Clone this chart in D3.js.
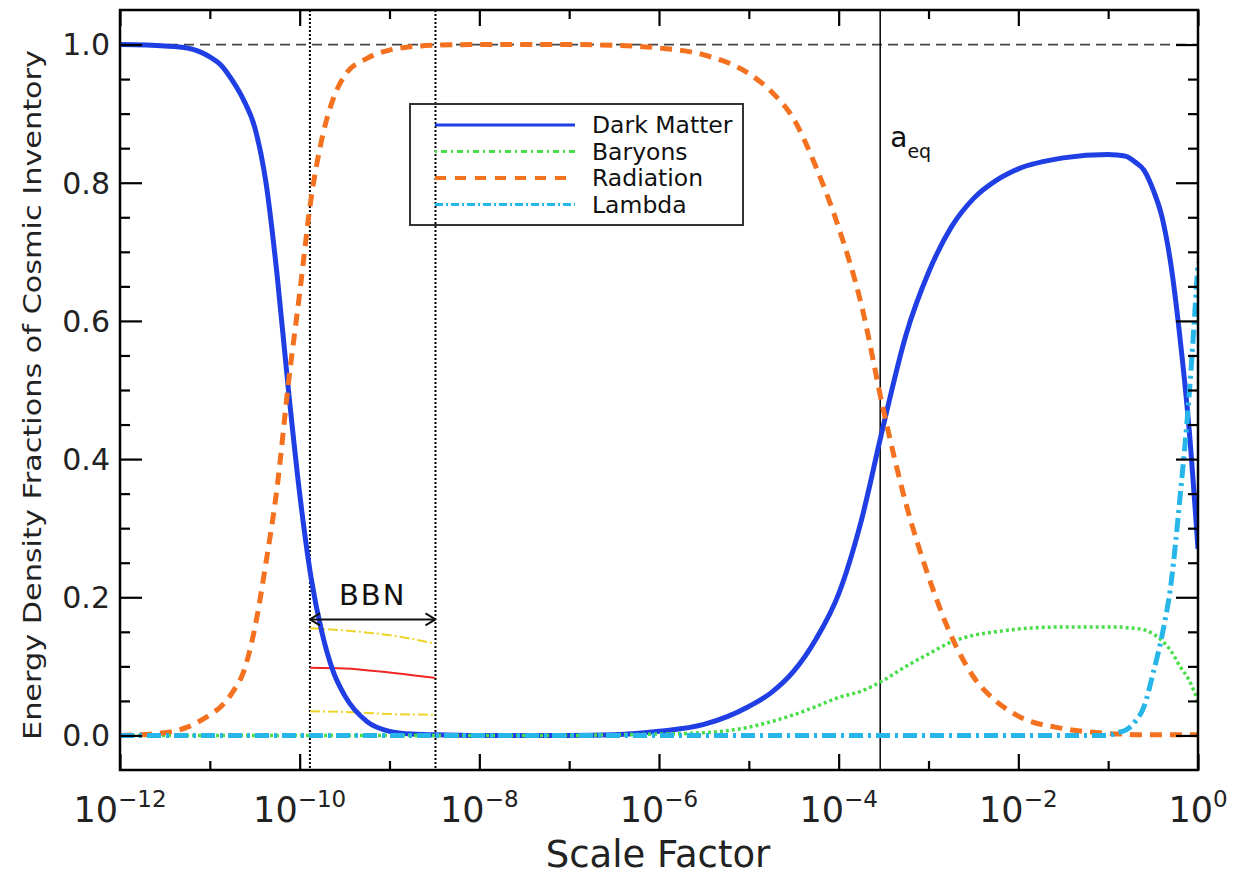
<!DOCTYPE html>
<html>
<head>
<meta charset="utf-8">
<script src="https://cdn.jsdelivr.net/npm/d3@7"></script>
<style>
  body { margin: 0; background: #fff; }
  text { font-family: "DejaVu Sans", sans-serif; fill: #111; }
</style>
</head>
<body>
<div id="chart"></div>
<script>
// log10 of the scale factor, shared by the four species
var logA = [-12, -11.5, -11.25, -11, -10.875, -10.75, -10.625, -10.5, -10.375, -10.25,
            -10.125, -10, -9.875, -9.75, -9.625, -9.5, -9.25, -9, -8.75, -8.5,
            -8, -7, -6.5, -6, -5.5, -5, -4.75, -4.5, -4.25, -4,
            -3.75, -3.5, -3.25, -3, -2.75, -2.5, -2.25, -2, -1.5, -1,
            -0.9, -0.8, -0.7, -0.6, -0.5, -0.4, -0.3, -0.2, -0.1, 0];

var darkMatter = [1.0, 0.998, 0.995, 0.982, 0.97, 0.948, 0.92, 0.88, 0.80, 0.665,
                  0.50, 0.35, 0.23, 0.148, 0.092, 0.058, 0.02, 0.006, 0.002, 0.001,
                  0, 0, 0.001, 0.006, 0.016, 0.042, 0.062, 0.093, 0.14, 0.205,
                  0.31, 0.45, 0.58, 0.67, 0.735, 0.777, 0.803, 0.82, 0.836, 0.841,
                  0.84, 0.838, 0.83, 0.818, 0.79, 0.75, 0.68, 0.575, 0.445, 0.27];

var baryons = [0, 0, 0, 0, 0, 0, 0, 0, 0, 0,
               0, 0, 0, 0, 0, 0, 0, 0, 0, 0,
               0, 0, 0.001, 0.002, 0.004, 0.012, 0.02, 0.03, 0.042, 0.055,
               0.064, 0.08, 0.1, 0.118, 0.135, 0.145, 0.15, 0.154, 0.157, 0.157,
               0.157, 0.156, 0.155, 0.153, 0.147, 0.137, 0.122, 0.1, 0.08, 0.05];

var radiation = [0, 0.004, 0.012, 0.03, 0.042, 0.062, 0.092, 0.155, 0.25, 0.36,
                 0.51, 0.64, 0.775, 0.865, 0.922, 0.955, 0.98, 0.992, 0.997, 0.999,
                 1.0, 1.0, 0.999, 0.995, 0.985, 0.958, 0.932, 0.892, 0.822, 0.735,
                 0.625, 0.47, 0.335, 0.23, 0.145, 0.085, 0.05, 0.028, 0.01, 0.003,
                 0.002, 0.002, 0.001, 0.001, 0.001, 0.001, 0.001, 0.001, 0.001, 0.001];

var lambda = [0, 0, 0, 0, 0, 0, 0, 0, 0, 0,
              0, 0, 0, 0, 0, 0, 0, 0, 0, 0,
              0, 0, 0, 0, 0, 0, 0, 0, 0, 0,
              0, 0, 0, 0, 0, 0, 0, 0, 0, 0,
              0.004, 0.008, 0.02, 0.042, 0.09, 0.145, 0.22, 0.345, 0.49, 0.685];

// BBN window and light-element curves
var bbnRange = [1.3e-10, 3.25e-9];
var bbnLogA = [-9.885, -9.5, -9.0, -8.49];
var bbnUpper = [0.155, 0.152, 0.145, 0.133];
var bbnMiddle = [0.098, 0.097, 0.091, 0.083];
var bbnLower = [0.035, 0.034, 0.031, 0.030];
var aEq = 2.9e-4;

var xMajorExp = [-12, -10, -8, -6, -4, -2, 0];
var xMinorExp = [-11, -9, -7, -5, -3, -1];
var yMajor = [0, 0.2, 0.4, 0.6, 0.8, 1.0];
var yMinor = [0.05, 0.1, 0.15, 0.25, 0.3, 0.35, 0.45, 0.5, 0.55, 0.65, 0.7, 0.75, 0.85, 0.9, 0.95];

var legendNames = ["Dark Matter", "Baryons", "Radiation", "Lambda"];

(function () {
var width = 1234, height = 875,
    pLeft = 120, pRight = 1198, pTop = 10, pBottom = 770;

var svg = d3.select("#chart").append("svg")
    .attr("width", width)
    .attr("height", height);

svg.append("rect").attr("width", width).attr("height", height).attr("fill", "#fff");

var x = d3.scaleLog().domain([1e-12, 1]).range([pLeft, pRight]),
    y = d3.scaleLinear().domain([-0.05, 1.05]).range([pBottom, pTop]);

svg.append("clipPath").attr("id", "plot")
  .append("rect")
    .attr("x", pLeft).attr("y", pTop)
    .attr("width", pRight - pLeft).attr("height", pBottom - pTop);

var g = svg.append("g").attr("clip-path", "url(#plot)");

// reference lines
g.append("line")
    .attr("x1", pLeft).attr("x2", pRight)
    .attr("y1", y(1)).attr("y2", y(1))
    .style("stroke", "#444").style("stroke-width", 1.8)
    .style("stroke-dasharray", "10 6");

bbnRange.forEach(function (a) {
    g.append("line")
        .attr("x1", x(a)).attr("x2", x(a))
        .attr("y1", pTop).attr("y2", pBottom)
        .style("stroke", "#000").style("stroke-width", 2)
        .style("stroke-dasharray", "2 2");
});

g.append("line")
    .attr("x1", x(aEq)).attr("x2", x(aEq))
    .attr("y1", pTop).attr("y2", pBottom)
    .style("stroke", "#111").style("stroke-width", 1.6);

var lineOf = d3.line()
    .x(function (d) { return x(Math.pow(10, d[0])); })
    .y(function (d) { return y(d[1]); })
    .curve(d3.curveMonotoneX);

function pairs(xs, ys) { return xs.map(function (e, i) { return [e, ys[i]]; }); }

// BBN abundance curves
g.append("path").datum(pairs(bbnLogA, bbnUpper)).attr("d", lineOf)
    .style("fill", "none").style("stroke", "#ecd428").style("stroke-width", 2)
    .style("stroke-dasharray", "10 3 2 3");
g.append("path").datum(pairs(bbnLogA, bbnMiddle)).attr("d", lineOf)
    .style("fill", "none").style("stroke", "#ee2626").style("stroke-width", 2);
g.append("path").datum(pairs(bbnLogA, bbnLower)).attr("d", lineOf)
    .style("fill", "none").style("stroke", "#ecd428").style("stroke-width", 2)
    .style("stroke-dasharray", "10 3 2 3");

var styles = [
    {data: darkMatter, color: "#1f3fe4", w: 5, dash: null, lw: 3, ldash: null},
    {data: baryons, color: "#47de47", w: 3.5, dash: "3 3", lw: 3, ldash: "2 4 6 4"},
    {data: radiation, color: "#f4711f", w: 5, dash: "12 8", lw: 4, ldash: "11 9"},
    {data: lambda, color: "#27b6ea", w: 5, dash: "14 5 3 5", lw: 3, ldash: "8 3 2 3"}
];

styles.forEach(function (s) {
    g.append("path")
        .datum(pairs(logA, s.data))
        .attr("d", lineOf)
        .style("fill", "none")
        .style("stroke", s.color)
        .style("stroke-width", s.w)
        .style("stroke-dasharray", s.dash);
});

// BBN arrow
var defs = svg.append("defs");
defs.append("marker")
    .attr("id", "head")
    .attr("viewBox", "-1 -8 12 16")
    .attr("refX", 10).attr("refY", 0)
    .attr("markerWidth", 12).attr("markerHeight", 16)
    .attr("markerUnits", "userSpaceOnUse")
    .attr("orient", "auto-start-reverse")
  .append("path")
    .attr("d", "M0,-6L10,0L0,6")
    .style("fill", "none").style("stroke", "#111").style("stroke-width", 2);

svg.append("line")
    .attr("x1", x(bbnRange[0])).attr("x2", x(bbnRange[1]))
    .attr("y1", y(0.168)).attr("y2", y(0.168))
    .style("stroke", "#111").style("stroke-width", 2)
    .attr("marker-start", "url(#head)")
    .attr("marker-end", "url(#head)");

svg.append("text")
    .attr("x", x(Math.sqrt(bbnRange[0] * bbnRange[1])))
    .attr("y", y(0.189))
    .attr("text-anchor", "middle")
    .style("font-size", "29px")
    .style("letter-spacing", "2px")
    .text("BBN");

var eq = svg.append("text")
    .attr("x", x(aEq) + 10)
    .attr("y", y(0.852))
    .style("font-size", "28px");
eq.append("tspan").text("a");
eq.append("tspan").attr("dy", 11).style("font-size", "19px").text("eq");

// axes, ticks inward on all four sides
function xAxisAt(axisFn, ypos, exps, size) {
    svg.append("g")
        .attr("transform", "translate(0," + ypos + ")")
        .call(axisFn(x).tickValues(exps.map(function (e) { return Math.pow(10, e); }))
              .tickSize(size).tickFormat(""))
        .call(function (s) { s.select(".domain").remove(); })
        .selectAll("line").style("stroke", "#000").style("stroke-width", 2.2);
}
xAxisAt(d3.axisBottom, pBottom, xMajorExp, -16);
xAxisAt(d3.axisBottom, pBottom, xMinorExp, -9);
xAxisAt(d3.axisTop, pTop, xMajorExp, -16);
xAxisAt(d3.axisTop, pTop, xMinorExp, -9);

function yAxisAt(axisFn, xpos, vals, size) {
    svg.append("g")
        .attr("transform", "translate(" + xpos + ",0)")
        .call(axisFn(y).tickValues(vals).tickSize(size).tickFormat(""))
        .call(function (s) { s.select(".domain").remove(); })
        .selectAll("line").style("stroke", "#000").style("stroke-width", 2.2);
}
yAxisAt(d3.axisLeft, pLeft, yMinor, -10);
yAxisAt(d3.axisLeft, pLeft, yMajor, -22);
yAxisAt(d3.axisRight, pRight, yMinor, -10);
yAxisAt(d3.axisRight, pRight, yMajor, -22);

svg.append("rect")
    .attr("x", pLeft).attr("y", pTop)
    .attr("width", pRight - pLeft).attr("height", pBottom - pTop)
    .style("fill", "none").style("stroke", "#000").style("stroke-width", 2.5);

// tick labels
svg.append("g").selectAll("text")
    .data(yMajor)
  .enter().append("text")
    .attr("x", pLeft - 10)
    .attr("y", function (d) { return y(d); })
    .attr("dy", "0.36em")
    .attr("text-anchor", "end")
    .style("font-size", "30px")
    .style("fill", "#222")
    .text(d3.format(".1f"));

var xl = svg.append("g").selectAll("text")
    .data(xMajorExp)
  .enter().append("text")
    .attr("x", function (d) { return x(Math.pow(10, d)); })
    .attr("y", 822)
    .attr("text-anchor", "middle")
    .style("fill", "#222");
xl.append("tspan").style("font-size", "35px").text("10");
xl.append("tspan")
    .attr("dy", -15)
    .style("font-size", "23px")
    .text(function (d) { return d < 0 ? "\u2212" + (-d) : String(d); });

svg.append("text")
    .attr("x", (pLeft + pRight) / 2 - 1)
    .attr("y", 867)
    .attr("text-anchor", "middle")
    .style("font-size", "37px")
    .style("fill", "#222")
    .text("Scale Factor");

svg.append("text")
    .attr("transform", "translate(41," + ((pTop + pBottom) / 2 + 5) + ") rotate(-90)")
    .attr("text-anchor", "middle")
    .attr("textLength", 690)
    .attr("lengthAdjust", "spacingAndGlyphs")
    .style("font-size", "25px")
    .style("fill", "#222")
    .text("Energy Density Fractions of Cosmic Inventory");

// legend
var lg = svg.append("g").attr("transform", "translate(410,104)");
lg.append("rect")
    .attr("width", 333).attr("height", 121)
    .style("fill", "none").style("stroke", "#333").style("stroke-width", 2);

var rows = lg.selectAll("g.row")
    .data(styles)
  .enter().append("g")
    .attr("class", "row")
    .attr("transform", function (d, i) { return "translate(0," + (21 + i * 26.5) + ")"; });

rows.append("line")
    .attr("x1", 25).attr("x2", 165)
    .style("stroke", function (d) { return d.color; })
    .style("stroke-width", function (d) { return d.lw; })
    .style("stroke-dasharray", function (d) { return d.ldash; });

rows.append("text")
    .attr("x", 182)
    .attr("dy", "0.36em")
    .style("font-size", "23.5px")
    .text(function (d, i) { return legendNames[i]; });
})();
</script>
</body>
</html>
